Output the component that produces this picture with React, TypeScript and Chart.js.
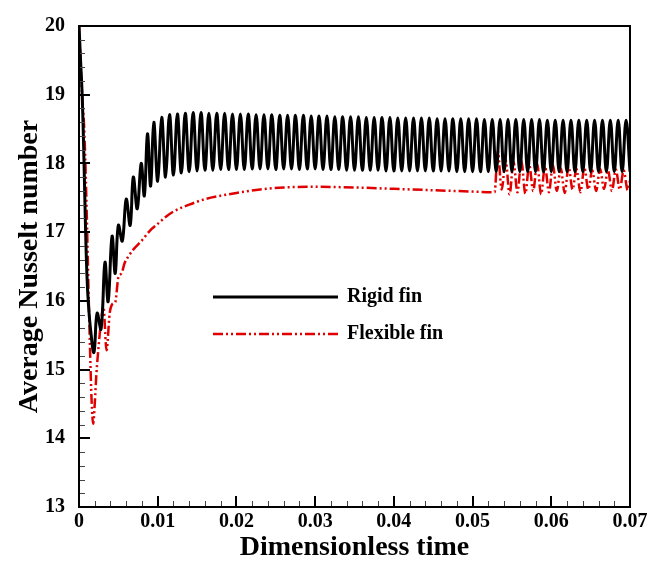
import { useEffect, useRef } from 'react';
import { Chart, registerables } from 'chart.js';

Chart.register(...registerables);

const FONT = "'Liberation Serif', 'Times New Roman', serif";

const rigidTime = [
  0, 0.0002, 0.0004, 0.0006, 0.0008, 0.0010, 0.0012, 0.0015, 0.0019, 0.0023,
  0.0028, 0.0033, 0.0037, 0.0042, 0.0046, 0.0050, 0.0055, 0.0060, 0.0065, 0.0069,
  0.0074, 0.0079, 0.0083, 0.0087, 0.0091, 0.0095, 0.0100, 0.0105, 0.0110, 0.0115,
  0.0120, 0.0125,
  0.0130, 0.0135, 0.0140, 0.0145, 0.0150, 0.0155, 0.0160, 0.0165, 0.0170, 0.0175,
  0.0180, 0.0185, 0.0190, 0.0195, 0.0200, 0.0205, 0.0210, 0.0215, 0.0220, 0.0225,
  0.0230, 0.0235, 0.0240, 0.0245, 0.0250, 0.0255, 0.0260, 0.0265, 0.0270, 0.0275,
  0.0280, 0.0285, 0.0290, 0.0295, 0.0300, 0.0305, 0.0310, 0.0315, 0.0320, 0.0325,
  0.0330, 0.0335, 0.0340, 0.0345, 0.0350, 0.0355, 0.0360, 0.0365, 0.0370, 0.0375,
  0.0380, 0.0385, 0.0390, 0.0395, 0.0400, 0.0405, 0.0410, 0.0415, 0.0420, 0.0425,
  0.0430, 0.0435, 0.0440, 0.0445, 0.0450, 0.0455, 0.0460, 0.0465, 0.0470, 0.0475,
  0.0480, 0.0485, 0.0490, 0.0495, 0.0500, 0.0505, 0.0510, 0.0515, 0.0520, 0.0525,
  0.0530, 0.0535, 0.0540, 0.0545, 0.0550, 0.0555, 0.0560, 0.0565, 0.0570, 0.0575,
  0.0580, 0.0585, 0.0590, 0.0595, 0.0600, 0.0605, 0.0610, 0.0615, 0.0620, 0.0625,
  0.0630, 0.0635, 0.0640, 0.0645, 0.0650, 0.0655, 0.0660, 0.0665, 0.0670, 0.0675,
  0.0680, 0.0685, 0.0690, 0.0695, 0.0700,
];

const rigidNu = [
  20.0, 19.5, 19.0, 18.2, 17.2, 16.4, 15.95, 15.55, 15.25, 15.82,
  15.59, 16.56, 15.99, 16.94, 16.4, 17.1, 16.87, 17.48, 17.1, 17.8,
  17.34, 18.0, 17.53, 18.43, 17.67, 18.6, 17.74, 18.67, 17.8, 18.71,
  17.83, 18.72,
  17.86, 18.73, 17.88, 18.74, 17.89, 18.74, 17.9, 18.73, 17.9, 18.73,
  17.91, 18.73, 17.91, 18.72, 17.91, 18.72, 17.91, 18.72, 17.92, 18.71,
  17.92, 18.71, 17.92, 18.71, 17.91, 18.7, 17.92, 18.7, 17.92, 18.7,
  17.91, 18.7, 17.92, 18.69, 17.92, 18.69, 17.91, 18.69, 17.91, 18.68,
  17.91, 18.68, 17.9, 18.68, 17.9, 18.68, 17.9, 18.67, 17.9, 18.67,
  17.9, 18.67, 17.89, 18.67, 17.89, 18.66, 17.89, 18.66, 17.89, 18.66,
  17.89, 18.66, 17.89, 18.66, 17.89, 18.65, 17.89, 18.65, 17.89, 18.65,
  17.88, 18.65, 17.88, 18.65, 17.88, 18.65, 17.88, 18.64, 17.88, 18.64,
  17.88, 18.64, 17.88, 18.64, 17.88, 18.64, 17.88, 18.64, 17.88, 18.64,
  17.88, 18.64, 17.88, 18.63, 17.88, 18.63, 17.88, 18.63, 17.88, 18.63,
  17.88, 18.63, 17.88, 18.63, 17.88, 18.63, 17.88, 18.63, 17.88, 18.63,
  17.88, 18.63, 17.88, 18.63, 17.88,
];

const flexTime = [
  0, 0.0003, 0.0007, 0.0010, 0.0012, 0.0014, 0.0016, 0.0018, 0.0020, 0.0022,
  0.0025, 0.0028, 0.0031, 0.0035, 0.0039, 0.0043, 0.0046, 0.0050, 0.0054, 0.0058,
  0.0063, 0.0070, 0.0080, 0.0090, 0.0100, 0.0110, 0.0120, 0.0140, 0.0160, 0.0180,
  0.0200, 0.0230, 0.0260, 0.0300, 0.0350, 0.0400, 0.0450, 0.0500, 0.0528,
  0.0532, 0.0537, 0.0542, 0.0547, 0.0552, 0.0557, 0.0562, 0.0567, 0.0572, 0.0577,
  0.0582, 0.0587, 0.0592, 0.0597, 0.0602, 0.0607, 0.0612, 0.0617, 0.0622, 0.0627,
  0.0632, 0.0637, 0.0642, 0.0647, 0.0652, 0.0657, 0.0662, 0.0667, 0.0672, 0.0677,
  0.0682, 0.0687, 0.0692, 0.0697, 0.0700,
];

const flexNu = [
  20.0, 19.2, 18.4, 17.2, 16.2, 15.3, 14.55, 14.21, 14.5, 14.92,
  15.35, 15.7, 15.92, 15.28, 15.82, 15.96, 15.98, 16.34, 16.4, 16.55,
  16.65, 16.76, 16.88, 17.02, 17.12, 17.22, 17.3, 17.4, 17.48, 17.53,
  17.57, 17.62, 17.65, 17.66, 17.65, 17.63, 17.61, 17.59, 17.58,
  18.18, 17.62, 18.05, 17.55, 18.02, 17.58, 18.04, 17.56, 17.98, 17.6,
  18.0, 17.55, 17.96, 17.58, 17.98, 17.6, 17.93, 17.57, 17.95, 17.62,
  17.92, 17.58, 17.94, 17.62, 17.9, 17.6, 17.92, 17.63, 17.9, 17.6,
  17.91, 17.62, 17.9, 17.61, 17.75,
];

const xTickValues = [0, 0.01, 0.02, 0.03, 0.04, 0.05, 0.06, 0.07];
const xTickLabels = ['0', '0.01', '0.02', '0.03', '0.04', '0.05', '0.06', '0.07'];
const yTickValues = [13, 14, 15, 16, 17, 18, 19, 20];
const yTickLabels = ['13', '14', '15', '16', '17', '18', '19', '20'];
const seriesLabels = ['Rigid fin', 'Flexible fin'];
const xMinorPerMajor = 5;
const yMinorPerMajor = 5;

const RED = '#e00000';
const FLEX_DASH = [10, 3, 2, 3, 2, 3];

const frameTicks = {
  id: 'frameTicks',
  afterDatasetsDraw(chart: any) {
    const { ctx, chartArea: a, scales } = chart;
    const x = scales.x;
    const y = scales.y;
    ctx.save();
    // minor ticks
    ctx.lineWidth = 1;
    ctx.strokeStyle = '#444';
    for (let i = 0; i < xTickValues.length - 1; i++) {
      const step = (xTickValues[i + 1] - xTickValues[i]) / xMinorPerMajor;
      for (let k = 1; k < xMinorPerMajor; k++) {
        const px = Math.round(x.getPixelForValue(xTickValues[i] + k * step)) + 0.5;
        ctx.beginPath();
        ctx.moveTo(px, a.bottom);
        ctx.lineTo(px, a.bottom - 6);
        ctx.stroke();
      }
    }
    for (let i = 0; i < yTickValues.length - 1; i++) {
      const step = (yTickValues[i + 1] - yTickValues[i]) / yMinorPerMajor;
      for (let k = 1; k < yMinorPerMajor; k++) {
        const py = Math.round(y.getPixelForValue(yTickValues[i] + k * step)) + 0.5;
        ctx.beginPath();
        ctx.moveTo(a.left, py);
        ctx.lineTo(a.left + 6, py);
        ctx.stroke();
      }
    }
    // major ticks
    ctx.strokeStyle = '#000';
    ctx.lineWidth = 2;
    xTickValues.forEach((v) => {
      const px = Math.round(x.getPixelForValue(v));
      ctx.beginPath();
      ctx.moveTo(px, a.bottom);
      ctx.lineTo(px, a.bottom - 11);
      ctx.stroke();
    });
    yTickValues.forEach((v) => {
      const py = Math.round(y.getPixelForValue(v));
      ctx.beginPath();
      ctx.moveTo(a.left, py);
      ctx.lineTo(a.left + 11, py);
      ctx.stroke();
    });
    // frame
    ctx.lineWidth = 2;
    ctx.strokeRect(a.left, a.top, a.right - a.left, a.bottom - a.top);

    // legend
    const ds = chart.data.datasets;
    const lx0 = 213;
    const lx1 = 338;
    const rows = [297, 334];
    ctx.font = `bold 20px ${FONT}`;
    ctx.textBaseline = 'middle';
    ctx.textAlign = 'left';
    ds.forEach((d: any, i: number) => {
      ctx.save();
      ctx.strokeStyle = d.borderColor;
      ctx.lineWidth = d.borderWidth;
      ctx.setLineDash(d.borderDash || []);
      ctx.beginPath();
      ctx.moveTo(lx0, rows[i]);
      ctx.lineTo(lx1, rows[i]);
      ctx.stroke();
      ctx.restore();
      ctx.fillStyle = '#000';
      ctx.fillText(d.label, 347, rows[i]);
    });
    ctx.restore();
  },
};

export default function App() {
  const ref = useRef<HTMLCanvasElement | null>(null);

  useEffect(() => {
    if (!ref.current) return;
    const rigid = rigidTime.map((t, i) => ({ x: t, y: rigidNu[i] }));
    const flex = flexTime.map((t, i) => ({ x: t, y: flexNu[i] }));
    const chart = new Chart(ref.current, {
      type: 'line',
      data: {
        datasets: [
          {
            label: seriesLabels[0],
            data: rigid,
            borderColor: '#000',
            borderWidth: 3,
            pointRadius: 0,
            tension: 0.4,
            fill: false,
          },
          {
            label: seriesLabels[1],
            data: flex,
            borderColor: RED,
            borderWidth: 2.5,
            borderDash: FLEX_DASH,
            pointRadius: 0,
            cubicInterpolationMode: 'monotone',
            fill: false,
          },
        ],
      },
      options: {
        animation: false,
        responsive: false,
        parsing: false as any,
        layout: { padding: { top: 13, right: 35, left: 0, bottom: 0 } },
        plugins: {
          legend: { display: false },
          tooltip: { enabled: false },
        },
        scales: {
          x: {
            type: 'linear',
            min: 0,
            max: 0.07,
            afterFit: (s: any) => {
              s.height = 58;
            },
            afterBuildTicks: (s: any) => {
              s.ticks = xTickValues.map((v) => ({ value: v }));
            },
            grid: { display: false, drawTicks: false },
            border: { display: false },
            ticks: {
              padding: 3,
              maxRotation: 0,
              autoSkip: false,
              color: '#000',
              font: { family: FONT, size: 20, weight: 'bold' },
              callback: (_v: any, i: number) => xTickLabels[i],
            },
            title: {
              display: true,
              text: 'Dimensionless time',
              color: '#000',
              padding: { top: 0, bottom: 0 },
              font: { family: FONT, size: 28, weight: 'bold' },
            },
          },
          y: {
            type: 'linear',
            min: 13,
            max: 20,
            afterFit: (s: any) => {
              s.width = 79;
            },
            afterBuildTicks: (s: any) => {
              s.ticks = yTickValues.map((v) => ({ value: v }));
            },
            grid: { display: false, drawTicks: false },
            border: { display: false },
            ticks: {
              padding: 14,
              autoSkip: false,
              color: '#000',
              font: { family: FONT, size: 20, weight: 'bold' },
              callback: (_v: any, i: number) => yTickLabels[i],
            },
            title: {
              display: true,
              text: 'Average Nusselt number',
              color: '#000',
              padding: { top: 13, bottom: 0 },
              font: { family: FONT, size: 28, weight: 'bold' },
            },
          },
        },
      },
      plugins: [frameTicks],
    });
    return () => chart.destroy();
  }, []);

  return (
    <div style={{ position: 'fixed', left: 0, top: 0, width: 665, height: 565, background: '#fff' }}>
      <canvas ref={ref} width={665} height={565} />
    </div>
  );
}
